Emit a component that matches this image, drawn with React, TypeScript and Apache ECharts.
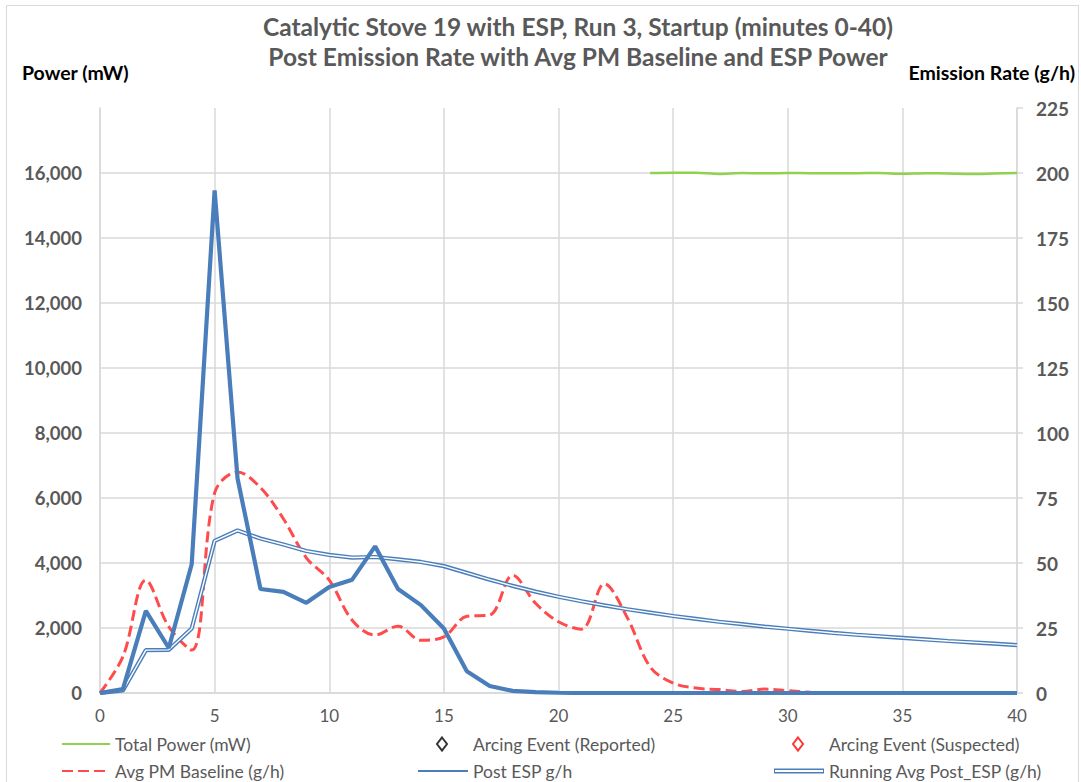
import React, { useEffect, useRef } from "react";
import * as echarts from "echarts";

const minutes = Array.from({ length: 41 }, (_, i) => i);

const postEsp = [
  0, 1.5, 31.6, 17.3, 49.5, 193.3, 82.5, 40, 38.9, 34.7, 40.8, 43.6, 56.4, 40, 33.8, 24.8,
  8.4, 2.7, 0.8, 0.3, 0.1, 0, 0, 0, 0, 0, 0, 0, 0, 0, 0, 0, 0, 0, 0, 0, 0, 0, 0, 0, 0,
];

const runningAvg = [
  0, 1, 16.5, 16.6, 24.8, 58.5, 62.5, 59.4, 57.1, 54.6, 53.1, 52.1, 52.3, 51.4, 50.4, 48.8,
  46.2, 43.6, 41.2, 39.0, 37.0, 35.3, 33.7, 32.2, 30.9, 29.6, 28.5, 27.4, 26.5, 25.5, 24.7,
  23.9, 23.1, 22.4, 21.8, 21.2, 20.6, 20.0, 19.5, 19.0, 18.4,
];

const pmBaseline = [
  0, 14, 43.4, 25.5, 16.5, 77, 85, 79, 67, 52, 43.4, 28, 22.3, 25.7, 20.3, 21.6, 29.5, 30,
  45.3, 34.5, 27.4, 24.5, 42, 29, 10, 3.8, 1.9, 1.3, 0.6, 1.5, 0.9, 0.3, 0, 0, 0, 0, 0, 0, 0,
  0, 0,
];

const powerMinutes = [24, 25, 26, 27, 28, 29, 30, 31, 32, 33, 34, 35, 36, 37, 38, 39, 40];
const totalPower = [
  16000, 16010, 16010, 15970, 16000, 15990, 16000, 15995, 15990, 15995, 16000, 15975, 15990,
  15985, 15970, 15985, 16000,
];

const titleLines = [
  "Catalytic Stove 19 with ESP, Run 3, Startup (minutes 0-40)",
  "Post Emission Rate with Avg PM Baseline and ESP Power",
];

const FONT = "Lato, 'Liberation Sans', Arial, sans-serif";
const BLUE = "#4a7ebb";
const RED = "#ff4b4b";
const GREEN = "#92d050";
const GRID = "#d9d9d9";
const LABEL = "#595959";

export default function App() {
  const ref = useRef<HTMLDivElement>(null);

  useEffect(() => {
    if (!ref.current) return;
    const chart = echarts.init(ref.current, null, { renderer: "svg" });
    const pair = (xs: number[], ys: number[]) => xs.map((x, i) => [x, ys[i]]);
    const legendText = { color: LABEL, fontSize: 17.5, fontFamily: FONT };
    const mkLegend = (name: any, left: number, top: number, extra: any = {}) => ({
      data: [name],
      left,
      top,
      itemWidth: 48,
      itemHeight: 4,
      itemGap: 0,
      padding: 0,
      selectedMode: false,
      textStyle: legendText,
      ...extra,
    });
    const noDot = { itemStyle: { opacity: 0 } };

    chart.setOption({
      animation: false,
      backgroundColor: "#ffffff",
      grid: { left: 100, right: 64, top: 108, bottom: 89, containLabel: false },
      title: {
        text: titleLines.join("\n"),
        left: 573,
        top: 6,
        textAlign: "center",
        textStyle: {
          fontFamily: FONT,
          fontSize: 24.5,
          fontWeight: "bold",
          color: LABEL,
          lineHeight: 30,
        },
      },
      graphic: [
        {
          type: "rect",
          shape: { x: 6.5, y: 5.5, width: 1072, height: 800 },
          style: { fill: "none", stroke: GRID, lineWidth: 1 },
          silent: true,
        },
        {
          type: "text",
          left: 22,
          top: 62,
          style: { text: "Power (mW)", font: `bold 19.5px ${FONT}`, fill: "#000" },
        },
        {
          type: "text",
          right: 6,
          top: 62,
          style: { text: "Emission Rate (g/h)", font: `bold 19.5px ${FONT}`, fill: "#000" },
        },
      ],
      legend: [
        mkLegend("Total Power (mW)", 61, 735, noDot),
        mkLegend("Arcing Event (Reported)", 436, 735, {
          itemWidth: 10,
          itemHeight: 13,
          textStyle: { ...legendText, padding: [0, 0, 0, 21] },
        }),
        mkLegend("Arcing Event (Suspected)", 792, 735, {
          itemWidth: 10,
          itemHeight: 13,
          textStyle: { ...legendText, padding: [0, 0, 0, 21] },
        }),
        mkLegend("Avg PM Baseline (g/h)", 61, 762, noDot),
        mkLegend("Post ESP g/h", 417, 762, { itemWidth: 50, ...noDot }),
        mkLegend(
          {
            name: "Running Avg Post_ESP (g/h)",
            icon: "path://M0,0H50V5H0Z M1,1.4V3.6H49V1.4Z",
          },
          774,
          762,
          { itemWidth: 50, itemHeight: 5 }
        ),
      ],
      xAxis: {
        type: "value",
        min: 0,
        max: 40,
        interval: 5,
        axisLine: { show: true, lineStyle: { color: GRID, width: 1.5 } },
        axisTick: { show: false },
        axisLabel: { color: LABEL, fontSize: 17, fontFamily: FONT, margin: 14 },
        splitLine: { show: true, lineStyle: { color: GRID, width: 1.5 } },
      },
      yAxis: [
        {
          type: "value",
          min: 0,
          max: 18000,
          interval: 2000,
          position: "left",
          axisLine: { show: true, lineStyle: { color: GRID, width: 1.5 } },
          axisTick: { show: false },
          axisLabel: {
            color: LABEL,
            fontSize: 18.5,
            fontWeight: "bold",
            fontFamily: FONT,
            margin: 18,
            formatter: (v: number) => (v >= 18000 ? "" : v.toLocaleString("en-US")),
          },
          splitLine: {
            show: true,
            lineStyle: {
              color: [GRID, GRID, GRID, GRID, GRID, GRID, GRID, GRID, GRID, "rgba(0,0,0,0)"],
              width: 1.5,
            },
          },
        },
        {
          type: "value",
          min: 0,
          max: 225,
          interval: 25,
          position: "right",
          axisLine: { show: true, lineStyle: { color: GRID, width: 1.5 } },
          axisTick: { show: true, length: 6, lineStyle: { color: GRID, width: 1.5 } },
          axisLabel: {
            color: LABEL,
            fontSize: 19,
            fontWeight: "bold",
            fontFamily: FONT,
            margin: 19,
          },
          splitLine: { show: false },
        },
      ],
      series: [
        {
          name: "Total Power (mW)",
          type: "line",
          yAxisIndex: 0,
          data: pair(powerMinutes, totalPower),
          symbol: "none",
          smooth: 0.3,
          lineStyle: { color: GREEN, width: 2.5 },
          itemStyle: { color: GREEN },
          z: 3,
        },
        {
          name: "Arcing Event (Reported)",
          type: "scatter",
          yAxisIndex: 1,
          data: [],
          symbol: "diamond",
          itemStyle: { color: "#ffffff", borderColor: "#000000", borderWidth: 1.8 },
        },
        {
          name: "Arcing Event (Suspected)",
          type: "scatter",
          yAxisIndex: 1,
          data: [],
          symbol: "diamond",
          itemStyle: { color: "#ffffff", borderColor: "#ff0000", borderWidth: 1.8 },
        },
        {
          name: "Avg PM Baseline (g/h)",
          type: "line",
          yAxisIndex: 1,
          data: pair(minutes, pmBaseline),
          symbol: "none",
          smooth: 0.35,
          lineStyle: { color: RED, width: 3, type: [11, 5] },
          itemStyle: { color: RED },
          z: 4,
        },
        {
          name: "Running Avg Post_ESP (g/h)",
          type: "line",
          yAxisIndex: 1,
          data: pair(minutes, runningAvg),
          symbol: "none",
          lineStyle: { color: BLUE, width: 4.2 },
          itemStyle: { color: BLUE },
          z: 5,
        },
        {
          name: "Running Avg inner",
          type: "line",
          yAxisIndex: 1,
          data: pair(minutes, runningAvg),
          symbol: "none",
          lineStyle: { color: "#ffffff", width: 1.4 },
          itemStyle: { color: "#ffffff" },
          z: 6,
        },
        {
          name: "Post ESP g/h",
          type: "line",
          yAxisIndex: 1,
          data: pair(minutes, postEsp),
          symbol: "none",
          lineStyle: { color: BLUE, width: 4.2 },
          itemStyle: { color: BLUE },
          z: 7,
        },
      ],
    });
    return () => chart.dispose();
  }, []);

  return (
    <div
      ref={ref}
      style={{ position: "absolute", left: 0, top: 0, width: 1081, height: 782, background: "#fff" }}
    />
  );
}
